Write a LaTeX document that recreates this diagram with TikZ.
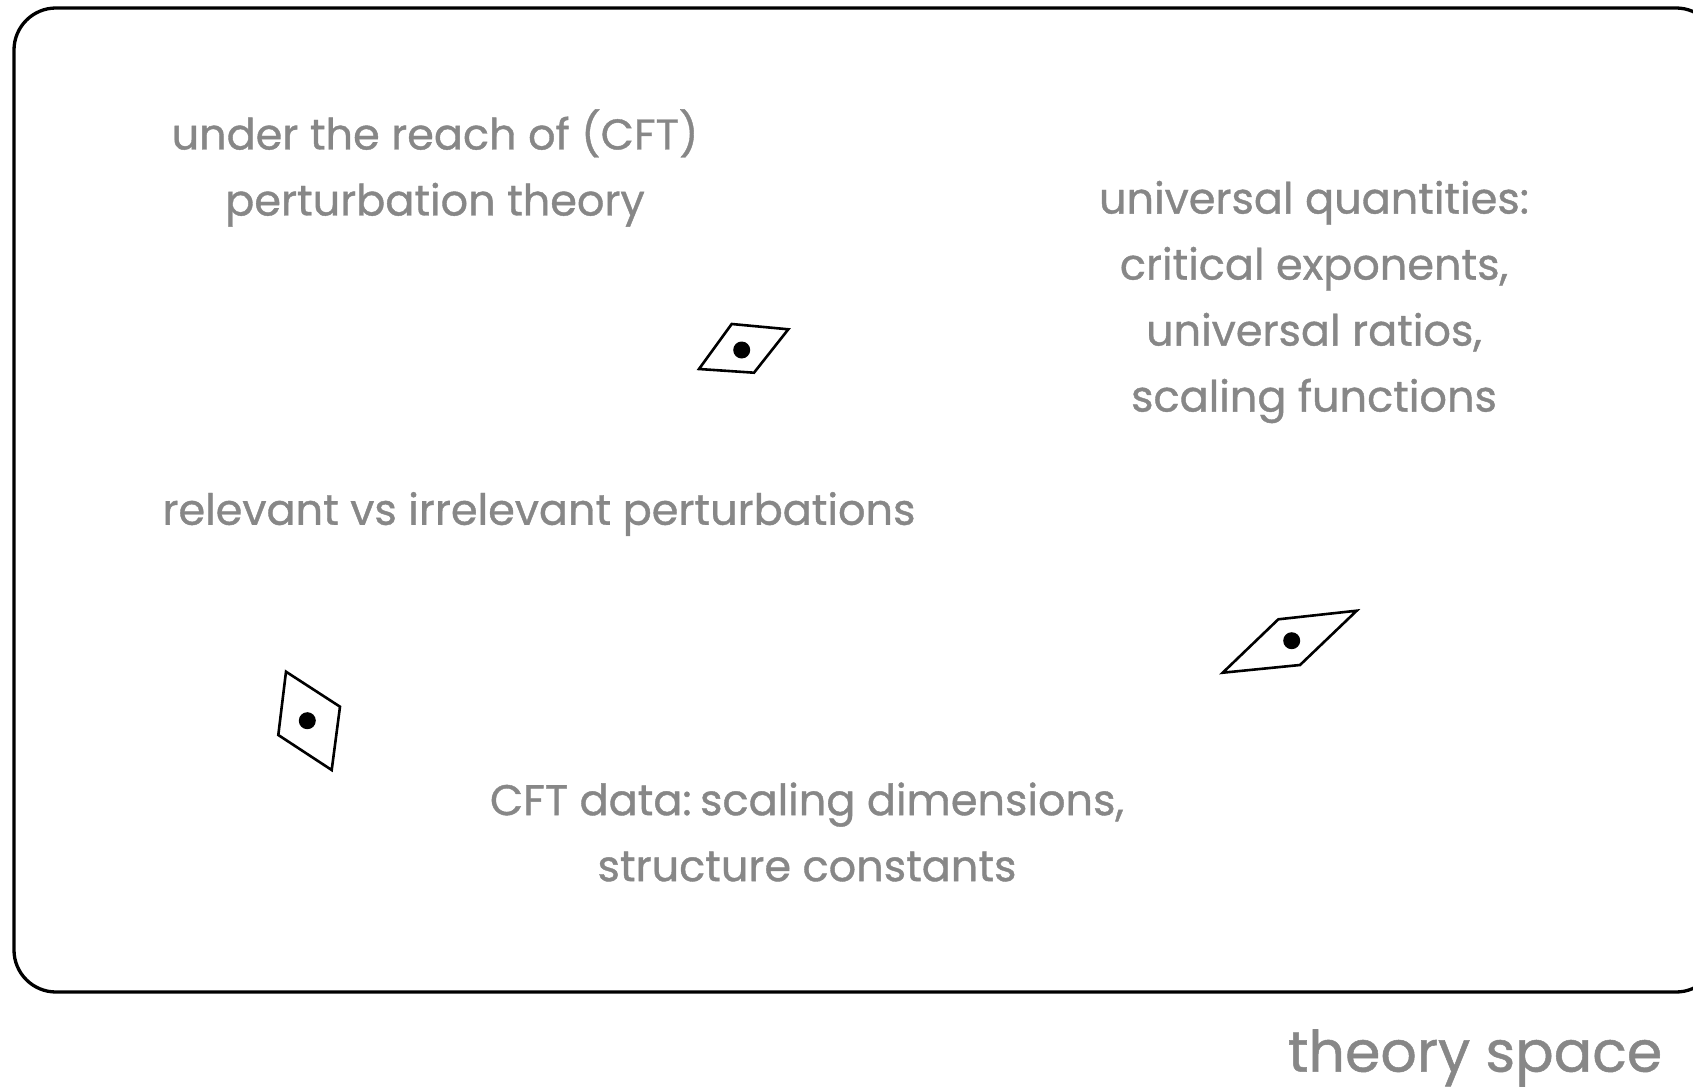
\documentclass[tikz,border=0pt]{standalone}
\usepackage{fontspec}
\setmainfont{Poppins}[FakeBold=0.9]
\definecolor{txt}{RGB}{135,135,135}
\begin{document}
\begin{tikzpicture}[x=1pt,y=-1pt,
  lbl/.style={text=txt, font=\fontsize{43}{66}\selectfont, align=center, inner sep=0},
  big/.style={text=txt, font=\fontsize{57}{60}\selectfont, inner sep=0},
  para/.style={line width=2.6, line join=miter},
  dot/.style={fill=black}]
\useasboundingbox (0,0) rectangle (1693,1091);
\begin{scope}
\clip (0,0) rectangle (1693,1091);
\draw[line width=3.3, rounded corners=42] (14,8) rectangle (1718,992);
\end{scope}
% parallelograms
\draw[para] (731.7,324) -- (788.3,329.3) -- (754,372.7) -- (699,369) -- cycle;
\fill[dot] (741.7,350) circle (8.5);
\draw[para] (286,671.7) -- (340,706.7) -- (331.7,770) -- (278.3,735) -- cycle;
\fill[dot] (307.3,720.7) circle (8.5);
\draw[para] (1278.3,619.3) -- (1356.7,610.7) -- (1300,665) -- (1222.7,672.7) -- cycle;
\fill[dot] (1291.7,640.7) circle (8.5);
% labels
\node[lbl] (pt) at (435,168) {under the reach of (CFT)\\perturbation theory};
\node[lbl] (uq) at (1314,302) {universal quantities:\\critical exponents,\\universal ratios,\\scaling functions};
\node[lbl] (rel) at (539,514) {relevant vs irrelevant perturbations};
\node[lbl] (cft) at (807,832) {CFT data:\kern-3pt\ scaling dimensions,\\structure constants};
\node[big] (ts) at (1475,1058) {theory space};
\end{tikzpicture}
\end{document}
